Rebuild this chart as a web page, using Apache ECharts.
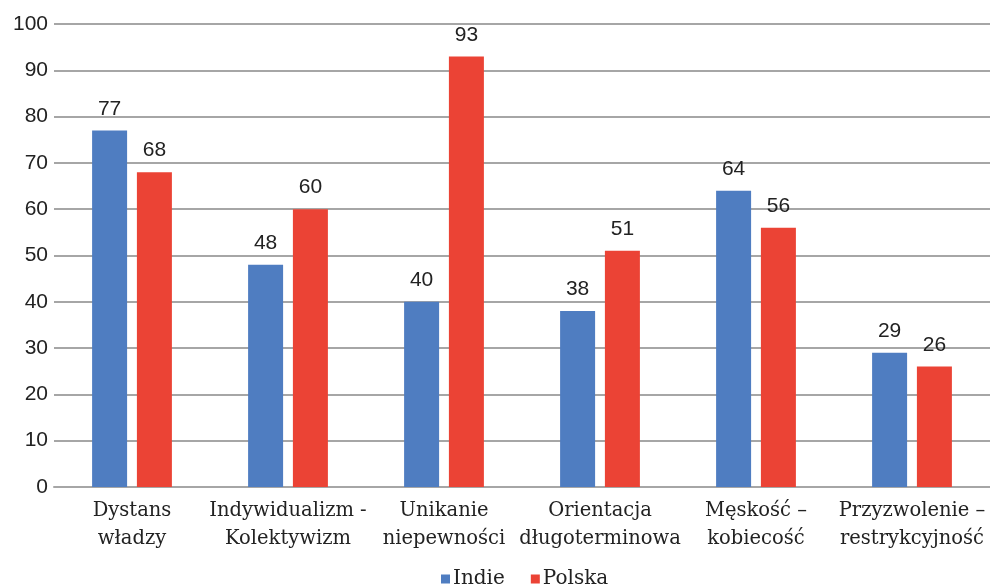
<!DOCTYPE html>
<html><head><meta charset="utf-8">
<script src="https://cdn.jsdelivr.net/npm/echarts@6/dist/echarts.min.js"></script>
<style>html,body{margin:0;padding:0;background:#fff}#c{width:990px;height:587px}</style>
</head><body><div id="c"></div>
<script>
const categories = ["Dystans\nwładzy", "Indywidualizm -\nKolektywizm", "Unikanie\nniepewności", "Orientacja\ndługoterminowa", "Męskość –\nkobiecość", "Przyzwolenie –\nrestrykcyjność"];
const indie = [77, 48, 40, 38, 64, 29];
const polska = [68, 60, 93, 51, 56, 26];
const chart = echarts.init(document.getElementById('c'));
const labelStyle = {show: true, position: 'top', distance: 11, color: '#222', fontFamily: 'Liberation Sans', fontSize: 21};
chart.setOption({
  animation: false,
  grid: {left: 54, right: -2, top: 24, bottom: 100},
  legend: {
    top: 569, left: 441, padding: 0, itemWidth: 9, itemHeight: 9, itemGap: 26, icon: 'rect',
    textStyle: {fontFamily: 'DejaVu Serif', fontSize: 20, color: '#222', padding: [0,0,0,-2]},
    data: ['Indie', 'Polska']
  },
  xAxis: {
    type: 'category', data: categories,
    axisLine: {lineStyle: {color: '#A6A6A6', width: 2}},
    axisTick: {show: false},
    axisLabel: {fontFamily: 'DejaVu Serif', fontSize: 19.5, color: '#222', lineHeight: 28, margin: 10, interval: 0}
  },
  yAxis: {
    type: 'value', min: 0, max: 100, interval: 10,
    axisLine: {show: false}, axisTick: {show: false},
    axisLabel: {fontFamily: 'Liberation Sans', fontSize: 21, color: '#222', margin: 6},
    splitLine: {lineStyle: {color: '#A6A6A6', width: 2}}
  },
  series: [
    {name: 'Indie', type: 'bar', data: indie, barWidth: 35, barGap: '28%', itemStyle: {color: '#4F7DC1'}, label: labelStyle},
    {name: 'Polska', type: 'bar', data: polska, barWidth: 35, itemStyle: {color: '#EB4335'}, label: labelStyle}
  ]
});
</script></body></html>
